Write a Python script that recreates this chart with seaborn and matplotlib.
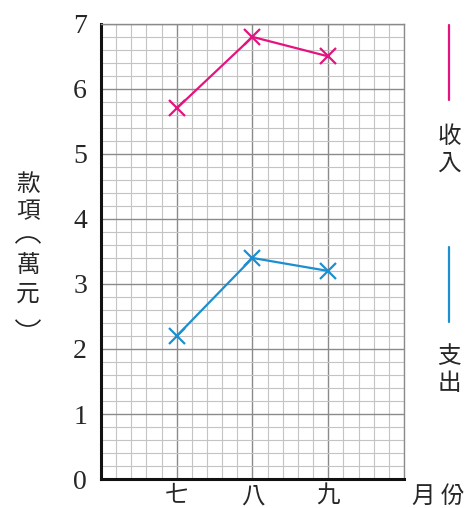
import numpy as np
import pandas as pd
import matplotlib.pyplot as plt
import seaborn as sns
from matplotlib.lines import Line2D
from matplotlib.patches import Arc
from matplotlib.ticker import MultipleLocator

sns.set_style('white')
plt.rcParams['font.family'] = ['Noto Sans CJK TC', 'DejaVu Sans']

# Data
months = ['七', '八', '九']
income = [5.7, 6.8, 6.5]
expense = [2.2, 3.4, 3.2]

pink = '#e5137f'
blue = '#1b8fcf'

fig = plt.figure(figsize=(4.65, 5.08), dpi=100)
ax = fig.add_axes([0.217, 0.057, 0.652, 0.896])

# Grid paper
ax.xaxis.set_minor_locator(MultipleLocator(0.2))
ax.yaxis.set_minor_locator(MultipleLocator(0.2))
ax.grid(which='minor', color='#c4c4c4', lw=0.8)
ax.grid(which='major', color='#8a8a8a', lw=1.0)
ax.set_axisbelow(True)

for vals, col in [(income, pink), (expense, blue)]:
    sns.lineplot(x=months, y=vals, color=col, marker='x', markersize=11,
                 markeredgewidth=1.6, markeredgecolor=col, lw=1.6, ax=ax)
ax.set_xlim(-1, 3)
ax.set_ylim(0, 7)
ax.set_yticks(range(0, 8))

for side in ['top', 'right']:
    ax.spines[side].set_color('#8a8a8a')
    ax.spines[side].set_linewidth(1.0)
for side in ['left', 'bottom']:
    ax.spines[side].set_color('#111111')
    ax.spines[side].set_linewidth(2.2)

ax.set_xlabel('')
ax.set_ylabel('')
ax.set_xticks(range(3))
ax.set_xticklabels(months, fontsize=17)
ax.set_yticklabels([str(v) for v in range(8)], family='Liberation Serif', fontsize=20)
ax.tick_params(axis='both', which='both', length=0)
ax.tick_params(axis='x', pad=4)
ax.tick_params(axis='y', pad=10)

# Y title, stacked vertically; parentheses drawn as shallow arcs (vertical forms)
for ch, yy in [('款', 184), ('項', 212), ('萬', 266), ('元', 294)]:
    fig.text(28 / 465, 1 - yy / 508, ch, ha='center', va='center', fontsize=17)
for yy, t1, t2 in [(249, 25, 155), (314, 205, 335)]:
    fig.add_artist(Arc((0.28, (508 - yy) / 100), 0.28, 0.24, theta1=t1, theta2=t2,
                       transform=fig.dpi_scale_trans, color='#222222', lw=1.2))
fig.text(438 / 465, 1 - 496 / 508, '月 份', ha='center', va='center', fontsize=17)

# Legend on the right
fig.add_artist(Line2D([449 / 465, 449 / 465], [1 - 25 / 508, 1 - 100 / 508], color=pink, lw=1.6))
fig.text(449 / 465, 1 - 150 / 508, '收\n入', ha='center', va='center', fontsize=17, linespacing=1.2)
fig.add_artist(Line2D([449 / 465, 449 / 465], [1 - 247 / 508, 1 - 322 / 508], color=blue, lw=1.6))
fig.text(449 / 465, 1 - 370 / 508, '支\n出', ha='center', va='center', fontsize=17, linespacing=1.2)

plt.savefig('out.png', dpi=100, facecolor='white')
plt.close()
